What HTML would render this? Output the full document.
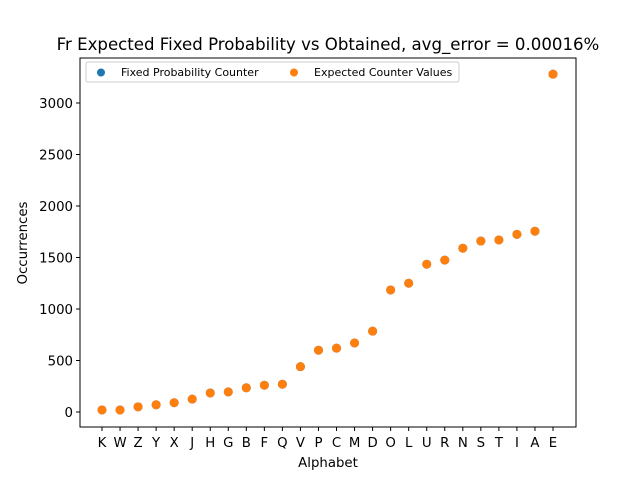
<!DOCTYPE html>
<html><head><meta charset="utf-8"><style>
body{margin:0;background:#fff;}
svg text{font-family:"DejaVu Sans","Liberation Sans",sans-serif;fill:#000;}
</style></head><body>
<svg id="chart" width="640" height="480" xmlns="http://www.w3.org/2000/svg">
<rect width="640" height="480" fill="#fff"/>
<text x="328" y="50" font-size="16.6" text-anchor="middle">Fr Expected Fixed Probability vs Obtained, avg_error = 0.00016%</text>
<g id="plot"></g>
<rect x="80" y="58" width="496" height="369" fill="none" stroke="#000" stroke-width="1"/>
<text x="328" y="467" font-size="13.3" text-anchor="middle">Alphabet</text>
<text transform="translate(27,243) rotate(-90)" font-size="13.3" text-anchor="middle">Occurrences</text>
<g>
<rect x="86" y="62" width="373" height="20" rx="2" fill="#fff" stroke="#ccc"/>
<circle cx="101" cy="72.5" r="4" fill="#1f77b4"/>
<text x="121" y="76" font-size="11">Fixed Probability Counter</text>
<circle cx="294" cy="72.5" r="4" fill="#ff7f0e"/>
<text x="314" y="76" font-size="11">Expected Counter Values</text>
</g>
</svg>
<script>
const categories = ["K","W","Z","Y","X","J","H","G","B","F","Q","V","P","C","M","D","O","L","U","R","N","S","T","I","A","E"];
const fixedValues = [20,20,50,70,90,125,185,195,235,260,270,440,600,620,670,785,1185,1250,1435,1475,1590,1660,1670,1725,1755,3280];
const expectedValues = [20,20,50,70,90,125,185,195,235,260,270,440,600,620,670,785,1185,1250,1435,1475,1590,1660,1670,1725,1755,3280];
const yTicks = [0,500,1000,1500,2000,2500,3000];

const svgNS = "http://www.w3.org/2000/svg";
const g = document.getElementById('plot');
function xScale(i){ return 102 + i*(553-102)/(categories.length-1); }
function yScale(v){ return 412 - v*(412-103)/3000; }
function mk(tag, attrs){ const e=document.createElementNS(svgNS,tag); for(const k in attrs) e.setAttribute(k,attrs[k]); g.appendChild(e); return e; }

yTicks.forEach(t=>{
  const y=yScale(t);
  const l=mk('line',{x1:76,x2:80,y1:y,y2:y,stroke:'#000'});
  
  
  const tx=mk('text',{x:73,y:y+5,'font-size':13.3,'text-anchor':'end'});
  tx.textContent=t;
  
  
});
categories.forEach((c,i)=>{
  const x=xScale(i);
  const l=mk('line',{x1:x,x2:x,y1:427,y2:431,stroke:'#000'});
  
  
  const tx=mk('text',{x:x,y:447,'font-size':13.3,'text-anchor':'middle'});
  tx.textContent=c;
  
  
});
fixedValues.forEach((v,i)=>{
  const p=mk('circle',{cx:xScale(i),cy:yScale(v),r:4.5,fill:'#1f77b4'});
  
  
});
expectedValues.forEach((v,i)=>{
  const p=mk('circle',{cx:xScale(i),cy:yScale(v),r:4.5,fill:'#ff7f0e'});
  
  
});
</script>
</body></html>
